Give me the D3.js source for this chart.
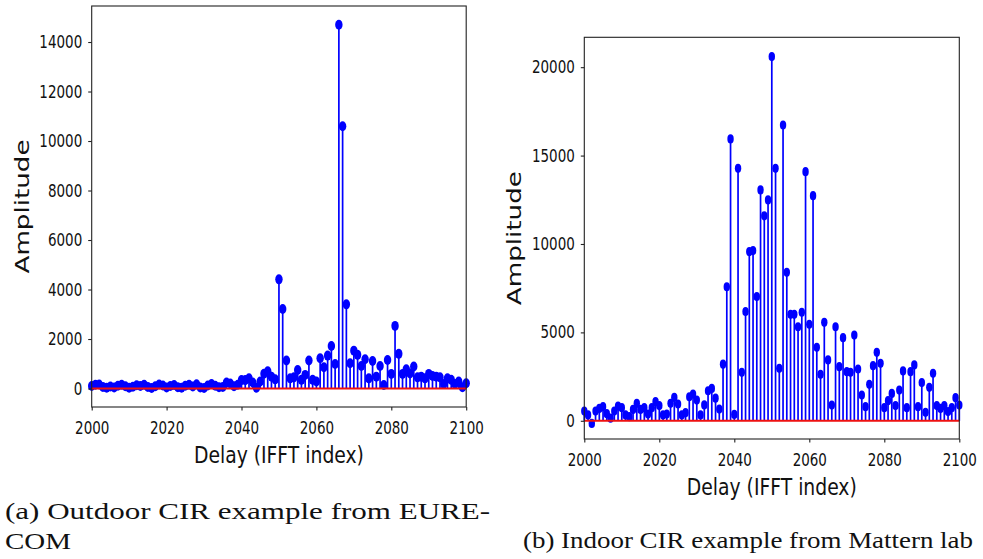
<!DOCTYPE html>
<html>
<head>
<meta charset="utf-8">
<script src="https://cdn.jsdelivr.net/npm/d3@7"></script>
<style>
  body { margin: 0; background: #fff; }
  svg { display: block; }
</style>
</head>
<body>
<div id="fig"></div>
<script>
// delay index (IFFT bin) shared by both panels
var delays = d3.range(2000, 2101);

// (a) outdoor CIR, EURECOM
var ampOutdoor = [
  100, 150, 160, 60, 30, 80, 40, 110, 150, 90,
  30, 70, 130, 100, 150, 60, 20, 90, 160, 120,
  40, 100, 140, 50, 30, 110, 150, 80, 170, 40,
  20, 120, 180, 110, 50, 60, 240, 200, 90, 150,
  340, 340, 410, 240, 30, 280, 600, 700, 480, 370,
  4410, 3210, 1130, 410, 450, 750, 350, 550, 1130, 350,
  280, 1220, 860, 1330, 1720, 990, 14700, 10600, 3400, 1020,
  1530, 1360, 910, 1180, 410, 1110, 480, 910, 140, 1150,
  590, 2530, 1400, 590, 780, 610, 890, 450, 480, 410,
  590, 510, 480, 450, 180, 410, 350, 180, 280, 50,
  210
];

// (b) indoor CIR, Mattern lab
var ampIndoor = [
  550, 330, -150, 550, 700, 800, 400, 150, 550, 830,
  740, 330, 230, 640, 990, 640, 740, 380, 740, 1080,
  860, 330, 380, 990, 1320, 950, 330, 460, 1360, 1510,
  1170, 330, 900, 1700, 1830, 1280, 660, 3200, 7580, 15940,
  360, 14280, 2740, 6180, 9570, 9630, 7030, 13060, 11590, 12490,
  20600, 14280, 2970, 16730, 8400, 6020, 6020, 5320, 6140, 14090,
  5460, 12730, 4160, 2630, 5570, 3440, 890, 5320, 3060, 4700,
  2780, 2740, 4850, 2930, 1460, 800, 2060, 3120, 3870, 3250,
  740, 1140, 1550, 860, 1740, 2820, 740, 2780, 3160, 800,
  2160, 480, 1890, 2690, 860, 700, 860, 520, 740, 1310,
  890
];

var xTicks = [2000, 2020, 2040, 2060, 2080, 2100];
var yTicksA = [0, 2000, 4000, 6000, 8000, 10000, 12000, 14000];
var yTicksB = [0, 5000, 10000, 15000, 20000];

var captionA = ["(a) Outdoor CIR example from EURE-", "COM"];
var captionB = "(b) Indoor CIR example from Mattern lab";

var W = 983, H = 559;
var svg = d3.select("#fig").append("svg")
  .attr("width", W).attr("height", H);
svg.append("rect").attr("width", W).attr("height", H).attr("fill", "#fff");

var sans = "DejaVu Sans, sans-serif";
var squeeze = 0.77;   // tick labels look horizontally squeezed in the reference

function stem_panel(box, vals, ydom, yticks, mk){
  var x = d3.scaleLinear().domain([2000, 2100]).range([box.x0, box.x1]);
  var y = d3.scaleLinear().domain(ydom).range([box.y1, box.y0]);
  var g = svg.append("g");

  var pts = delays.map(function(d, i){ return {d: d, v: vals[i]}; });

  // stems
  g.append("g").selectAll("line").data(pts).enter().append("line")
    .attr("x1", function(p){ return x(p.d); })
    .attr("x2", function(p){ return x(p.d); })
    .attr("y1", y(0))
    .attr("y2", function(p){ return y(p.v); })
    .attr("stroke", "#0000ff")
    .attr("stroke-width", 1.7);

  // markers
  g.append("g").selectAll("ellipse").data(pts).enter().append("ellipse")
    .attr("cx", function(p){ return x(p.d); })
    .attr("cy", function(p){ return y(p.v); })
    .attr("rx", mk[0]).attr("ry", mk[1])
    .attr("fill", "#0000ff");

  // baseline
  g.append("line")
    .attr("x1", x(2000)).attr("x2", x(2100))
    .attr("y1", y(0)).attr("y2", y(0))
    .attr("stroke", "#ee1111").attr("stroke-width", 2);

  // frame
  g.append("rect")
    .attr("x", box.x0).attr("y", box.y0)
    .attr("width", box.x1 - box.x0).attr("height", box.y1 - box.y0)
    .attr("fill", "none").attr("stroke", "#222").attr("stroke-width", 1.1);

  var ax = g.append("g")
    .attr("transform", "translate(0," + box.y1 + ")")
    .call(d3.axisBottom(x).tickValues(xTicks).tickFormat(d3.format("d"))
          .tickSize(3.5).tickSizeOuter(0).tickPadding(11));
  var ay = g.append("g")
    .attr("transform", "translate(" + box.x0 + ",0)")
    .call(d3.axisLeft(y).tickValues(yticks).tickFormat(d3.format("d"))
          .tickSize(3.5).tickSizeOuter(0).tickPadding(6));

  [ax, ay].forEach(function(a){
    a.select(".domain").remove();
    a.selectAll("line").attr("stroke", "#222").attr("stroke-width", 1.1);
    a.selectAll("text")
      .attr("fill", "#111")
      .style("font-family", sans)
      .style("font-size", "17.5px");
  });
  ax.selectAll("text").attr("transform", "scale(" + squeeze + ",1)");
  ay.selectAll("text")
    .attr("x", -9.5 / squeeze)
    .attr("transform", "scale(" + squeeze + ",1)");

  g.append("text")
    .attr("x", (box.x0 + box.x1) / 2)
    .attr("y", box.y1 + 56)
    .attr("text-anchor", "middle")
    .style("font-family", sans).style("font-size", "23px")
    .attr("fill", "#111")
    .attr("textLength", 170).attr("lengthAdjust", "spacingAndGlyphs")
    .text("Delay (IFFT index)");

  g.append("text")
    .attr("transform", "translate(" + (box.x0 - 63) + "," + ((box.y0 + box.y1) / 2) + ") rotate(-90)")
    .attr("text-anchor", "middle")
    .style("font-family", sans).style("font-size", "19px")
    .attr("fill", "#111")
    .attr("textLength", 134).attr("lengthAdjust", "spacingAndGlyphs")
    .text("Amplitude");
}

stem_panel({x0: 91.7, x1: 466.2, y0: 6, y1: 407}, ampOutdoor, [-747, 15455], yTicksA, [3.7, 5.0]);
stem_panel({x0: 584.3, x1: 959.3, y0: 37.3, y1: 439}, ampIndoor, [-1030, 21690], yTicksB, [3.2, 4.6]);

// captions
var serif = "Liberation Serif, Times New Roman, serif";
function caption(s, x, y, len){
  svg.append("text")
    .attr("x", x).attr("y", y)
    .style("font-family", serif).style("font-size", "24px")
    .attr("fill", "#111")
    .attr("textLength", len).attr("lengthAdjust", "spacingAndGlyphs")
    .text(s);
}
caption(captionA[0], 5, 519, 485);
caption(captionA[1], 5, 549, 66);
caption(captionB, 523, 548, 450);
</script>
</body>
</html>
